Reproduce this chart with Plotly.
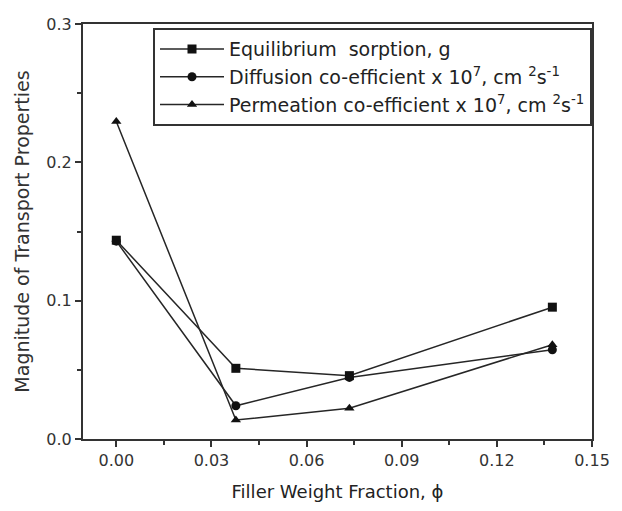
import plotly.graph_objects as go

x_vals = [0.0, 0.0377, 0.0735, 0.1375]
equilibrium = [0.1437, 0.0511, 0.0458, 0.0953]
diffusion = [0.1430, 0.0240, 0.0445, 0.0645]
permeation = [0.2295, 0.0137, 0.0223, 0.0682]

names = [
    "Equilibrium  sorption, g",
    "Diffusion co-efficient x 10<sup>7</sup>, cm <sup>2</sup>s<sup>-1</sup>",
    "Permeation co-efficient x 10<sup>7</sup>, cm <sup>2</sup>s<sup>-1</sup>",
]
symbols = ["square", "circle", "triangle-up"]
series = [equilibrium, diffusion, permeation]

x_ticks = [0.0, 0.03, 0.06, 0.09, 0.12, 0.15]
x_tick_text = ["0.00", "0.03", "0.06", "0.09", "0.12", "0.15"]
y_ticks = [0.0, 0.1, 0.2, 0.3]
y_tick_text = ["0.0", "0.1", "0.2", "0.3"]

FONT = "DejaVu Sans, Liberation Sans, Arial, sans-serif"

fig = go.Figure()
for i, (nm, sym, ys) in enumerate(zip(names, symbols, series)):
    fig.add_trace(go.Scatter(
        x=x_vals, y=ys, name=nm, mode="lines+markers",
        legendgroup=f"g{i}",
        line=dict(color="#262626", width=1.5),
        marker=dict(symbol=sym, size=9, color="#111111"),
    ))

axis_common = dict(
    showgrid=False, zeroline=False,
    showline=True, linecolor="#333333", linewidth=2, mirror=True,
    ticks="outside", ticklen=6, tickwidth=1.5, tickcolor="#333333",
    tickfont=dict(family=FONT, size=16, color="#333333"),
)

fig.update_xaxes(
    range=[-0.0105, 0.15], tickvals=x_ticks, ticktext=x_tick_text,
    minor=dict(ticks="outside", dtick=0.015, tick0=0, ticklen=4, tickwidth=1.5, tickcolor="#333333"),
    title=dict(text="Filler Weight Fraction, ϕ", font=dict(family=FONT, size=18, color="#222222"), standoff=16),
    **axis_common,
)
fig.update_yaxes(
    range=[0.0, 0.3], tickvals=y_ticks, ticktext=y_tick_text,
    minor=dict(ticks="outside", dtick=0.05, tick0=0, ticklen=4, tickwidth=1.5, tickcolor="#333333"),
    title=dict(text="Magnitude of Transport Properties", font=dict(family=FONT, size=19, color="#333333"), standoff=12),
    **axis_common,
)

fig.update_layout(
    width=622, height=511,
    margin=dict(l=83, r=19, t=24, b=70),
    paper_bgcolor="white", plot_bgcolor="white",
    showlegend=True,
    legend=dict(
        x=1.0, y=0.99, xanchor="right", yanchor="top",
        bordercolor="#333333", borderwidth=2, bgcolor="white",
        font=dict(family=FONT, size=19, color="#222222"),
        itemwidth=64,
        tracegroupgap=12, traceorder="normal",
    ),
)

fig.write_html("out.html")
